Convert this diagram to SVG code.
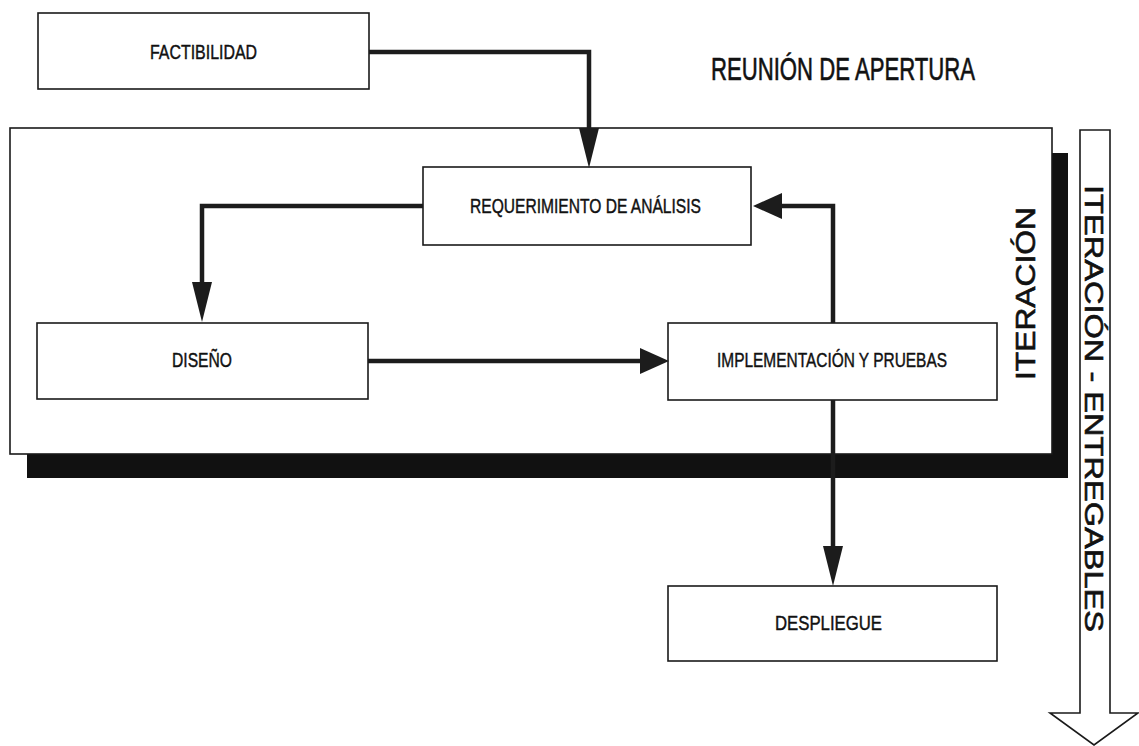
<svg xmlns="http://www.w3.org/2000/svg" width="1139" height="746" viewBox="0 0 1139 746">
  <style>
    .box { fill: #ffffff; stroke: #1a1a1a; stroke-width: 1.6; }
    .lbl { font-family: "Liberation Sans Narrow", "Liberation Sans", Arial, sans-serif; font-size: 21px; fill: #111; stroke: #111; stroke-width: 0.45; }
    .big { font-family: "Liberation Sans", Arial, sans-serif; fill: #111; stroke: #111; stroke-width: 0.6; }
    .conn { fill: none; stroke: #1c1c1c; stroke-width: 4.5; stroke-linejoin: miter; }
  </style>
  <defs>
    <marker id="ahL" markerUnits="userSpaceOnUse" markerWidth="40" markerHeight="20" viewBox="0 0 40 20" refX="0" refY="10" orient="auto">
      <path d="M0,0 L40,10 L0,20 Z" fill="#1c1c1c"/>
    </marker>
    <marker id="ahS" markerUnits="userSpaceOnUse" markerWidth="29" markerHeight="26" viewBox="0 0 29 26" refX="0" refY="13" orient="auto">
      <path d="M0,0 L29,13 L0,26 Z" fill="#1c1c1c"/>
    </marker>
  </defs>
  <rect width="1139" height="746" fill="#ffffff"/>

  <g id="iteracion-container">
    <rect x="27" y="153" width="1041" height="325" fill="#111"/>
    <rect class="box" x="10" y="128" width="1042" height="326"/>
    <text class="big" font-size="27" transform="translate(1035,380) rotate(-90)" textLength="173" lengthAdjust="spacingAndGlyphs">ITERACIÓN</text>
  </g>

  <g id="reunion">
    <text class="big" x="711" y="80" font-size="31" textLength="264" lengthAdjust="spacingAndGlyphs">REUNIÓN DE APERTURA</text>
  </g>

  <g id="factibilidad">
    <rect class="box" x="38" y="13" width="331" height="76"/>
    <text class="lbl" x="150" y="59" textLength="107" lengthAdjust="spacingAndGlyphs">FACTIBILIDAD</text>
  </g>

  <g id="requerimiento">
    <rect class="box" x="423" y="167" width="328" height="78"/>
    <text class="lbl" x="470" y="213" textLength="231" lengthAdjust="spacingAndGlyphs">REQUERIMIENTO DE ANÁLISIS</text>
  </g>

  <g id="diseno">
    <rect class="box" x="37" y="323" width="331" height="76"/>
    <text class="lbl" x="172" y="367" textLength="60" lengthAdjust="spacingAndGlyphs">DISEÑO</text>
  </g>

  <g id="implementacion">
    <rect class="box" x="668" y="323" width="329" height="77"/>
    <text class="lbl" x="717" y="367" textLength="230" lengthAdjust="spacingAndGlyphs">IMPLEMENTACIÓN Y PRUEBAS</text>
  </g>

  <g id="despliegue">
    <rect class="box" x="668" y="586" width="329" height="75"/>
    <text class="lbl" x="775" y="630" textLength="107" lengthAdjust="spacingAndGlyphs">DESPLIEGUE</text>
  </g>

  <g id="entregables">
    <path class="box" d="M1080,130 H1110 V713 H1138 L1094,745 L1050,713 H1080 Z"/>
    <text class="big" font-size="26" transform="translate(1085,185) rotate(90)" textLength="447" lengthAdjust="spacingAndGlyphs">ITERACIÓN - ENTREGABLES</text>
  </g>

  <g id="connectors">
    <path class="conn" d="M369,52 H589 V128" marker-end="url(#ahL)"/>
    <path class="conn" d="M423,206 H202 V282" marker-end="url(#ahL)"/>
    <path class="conn" d="M368,361 H640" marker-end="url(#ahS)"/>
    <path class="conn" d="M833,323 V206 H782" marker-end="url(#ahS)"/>
    <path class="conn" d="M833,400 V546" marker-end="url(#ahL)"/>
  </g>
</svg>
